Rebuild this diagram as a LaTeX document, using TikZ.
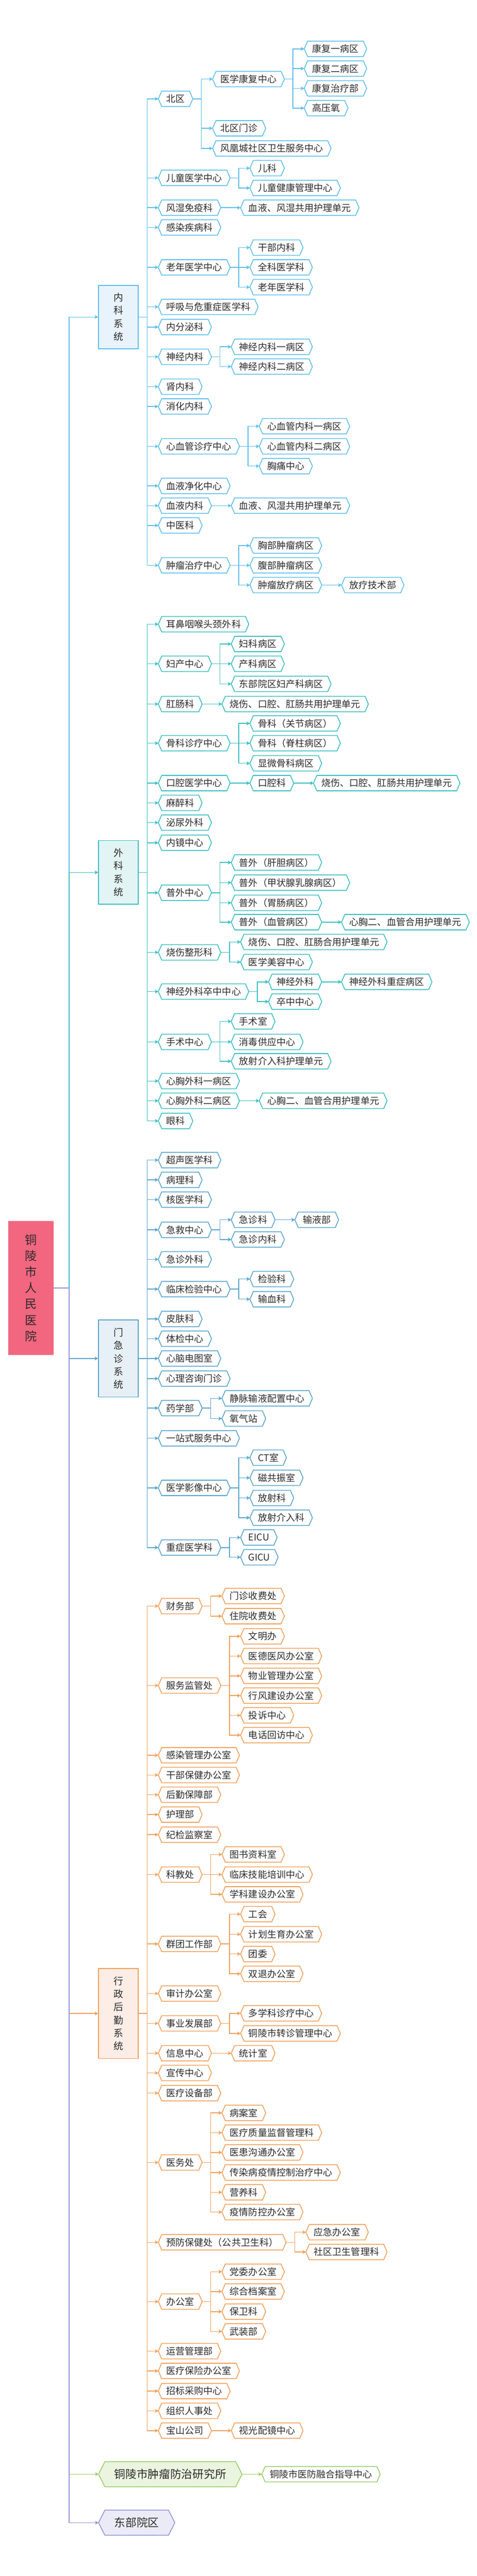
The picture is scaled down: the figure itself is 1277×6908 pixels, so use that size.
\documentclass[tikz,border=0pt]{standalone}
\usepackage{fontspec}
\setmainfont{Noto Sans CJK SC}
\usetikzlibrary{calc,arrows.meta,backgrounds}
\definecolor{cA}{HTML}{5FBEEB}
\definecolor{cB}{HTML}{3CBEC3}
\definecolor{cC}{HTML}{5AA5CD}
\definecolor{cD}{HTML}{F0A05A}
\definecolor{cE}{HTML}{9BCD69}
\definecolor{cF}{HTML}{9696D7}
\definecolor{fA}{HTML}{E8F3FC}
\definecolor{fB}{HTML}{E3F4F4}
\definecolor{fC}{HTML}{E8F0F7}
\definecolor{fD}{HTML}{FCEDE6}
\definecolor{fE}{HTML}{EAF4DF}
\definecolor{fF}{HTML}{EBEBF8}
\definecolor{cRoot}{HTML}{F2667F}
\definecolor{txt}{HTML}{2B2B2B}
\tikzset{
 hexbox/.style={rectangle, anchor=west, minimum height=41pt, inner xsep=21pt, inner ysep=0pt, text=txt, font=\fontsize{25}{30}\selectfont},
 hexline/.style={line width=2.2pt, line join=round},
 conn/.style={line width=2pt, -{Stealth[length=9pt,width=10pt,inset=2pt]}},
 sysbox/.style={rectangle, draw, line width=2.4pt, minimum width=106pt, align=center, text=txt, font=\fontsize{26}{35}\selectfont, inner sep=0pt},
}
\newcommand\hexoutline[3]{%
 \begin{scope}[on background layer]
 \draw[#3] ($(#1.north west)+(#2,0)$) -- ($(#1.north east)+(-#2,0)$) -- (#1.east) -- ($(#1.south east)+(-#2,0)$) -- ($(#1.south west)+(#2,0)$) -- (#1.west) -- cycle;
 \end{scope}}
\newcommand\kid[5]{%
 \coordinate (tmpy) at (0,#3);
 \node[hexbox, xshift=53pt] (#2) at (#1.east |- tmpy) {#4};
 \hexoutline{#2}{9}{draw=#5, hexline, fill=white}
 \draw[conn, #5] (#1.east) -- ++(23,0) |- (#2.west);}
\begin{document}
\begin{tikzpicture}[x=1pt,y=-1pt]
\useasboundingbox (0,0) rectangle (1277,6908);
\begin{scope}[on background layer]
\fill[white] (0,0) rectangle (1277,6908);
\end{scope}
\node[rectangle, fill=cRoot, minimum width=121pt, minimum height=358pt, align=center, font=\fontsize{32}{43}\selectfont, text=txt, inner sep=0pt] (root) at (82.5,3454) {铜\\陵\\市\\人\\民\\医\\院};
\node[sysbox, draw=cA, fill=fA, minimum height=170pt] (nk) at (317,850) {内\\科\\系\\统};
\node[sysbox, draw=cB, fill=fB, minimum height=171pt] (wk) at (317,2339.5) {外\\科\\系\\统};
\node[sysbox, draw=cC, fill=fC, minimum height=206pt] (mj) at (317,3643) {门\\急\\诊\\系\\统};
\node[sysbox, draw=cD, fill=fD, minimum height=241pt] (xz) at (317,5399.5) {行\\政\\后\\勤\\系\\统};
\node[hexbox, font=\fontsize{30}{36}\selectfont, minimum height=67pt, inner xsep=42pt] (zlyj) at (264,6635) {铜陵市肿瘤防治研究所};
\hexoutline{zlyj}{17}{draw=cE, fill=fE, hexline}
\node[hexbox, font=\fontsize{30}{36}\selectfont, minimum height=67pt, inner xsep=42pt] (dbyq) at (264,6765) {东部院区};
\hexoutline{dbyq}{17}{draw=cF, fill=fF, hexline}
\draw[conn, cA] (root.east) -- ++(42,0) |- (nk.west);
\draw[conn, cB] (root.east) -- ++(42,0) |- (wk.west);
\draw[conn, cC] (root.east) -- ++(42,0) |- (mj.west);
\draw[conn, cD] (root.east) -- ++(42,0) |- (xz.west);
\draw[conn, cE] (root.east) -- ++(42,0) |- (zlyj.west);
\draw[conn, cF] (root.east) -- ++(42,0) |- (dbyq.west);
\kid{zlyj}{yfrh}{6635}{铜陵市医防融合指导中心}{cE}
% 内科系统
\kid{nk}{bq}{265}{北区}{cA}
\kid{bq}{yxkf}{212}{医学康复中心}{cA}
\kid{yxkf}{kf1}{131}{康复一病区}{cA}
\kid{yxkf}{kf2}{184}{康复二病区}{cA}
\kid{yxkf}{kf3}{237}{康复治疗部}{cA}
\kid{yxkf}{gyy}{290}{高压氧}{cA}
\kid{bq}{bqmz}{344}{北区门诊}{cA}
\kid{bq}{fhc}{398}{风凰城社区卫生服务中心}{cA}
\kid{nk}{etyx}{477}{儿童医学中心}{cA}
\kid{etyx}{ek}{451}{儿科}{cA}
\kid{etyx}{etjk}{504}{儿童健康管理中心}{cA}
\kid{nk}{fsmy}{557}{风湿免疫科}{cA}
\kid{fsmy}{xyfsa}{557}{血液、风湿共用护理单元}{cA}
\kid{nk}{grjb}{610}{感染疾病科}{cA}
\kid{nk}{lnyx}{717}{老年医学中心}{cA}
\kid{lnyx}{gbnk}{664}{干部内科}{cA}
\kid{lnyx}{qkyx}{717}{全科医学科}{cA}
\kid{lnyx}{lnyk}{770}{老年医学科}{cA}
\kid{nk}{hxwz}{823}{呼吸与危重症医学科}{cA}
\kid{nk}{nfm}{877}{内分泌科}{cA}
\kid{nk}{sjnk}{957}{神经内科}{cA}
\kid{sjnk}{sjnka}{930}{神经内科一病区}{cA}
\kid{sjnk}{sjnkb}{983}{神经内科二病区}{cA}
\kid{nk}{snk}{1037}{肾内科}{cA}
\kid{nk}{xhnk}{1090}{消化内科}{cA}
\kid{nk}{xxgz}{1197}{心血管诊疗中心}{cA}
\kid{xxgz}{xxga}{1143}{心血管内科一病区}{cA}
\kid{xxgz}{xxgb}{1197}{心血管内科二病区}{cA}
\kid{xxgz}{xtzx}{1250}{胸痛中心}{cA}
\kid{nk}{xyjh}{1303}{血液净化中心}{cA}
\kid{nk}{xynk}{1356}{血液内科}{cA}
\kid{xynk}{xyfsb}{1356}{血液、风湿共用护理单元}{cA}
\kid{nk}{zyk}{1409}{中医科}{cA}
\kid{nk}{zlzl}{1516}{肿瘤治疗中心}{cA}
\kid{zlzl}{xbzl}{1463}{胸部肿瘤病区}{cA}
\kid{zlzl}{fbzl}{1516}{腹部肿瘤病区}{cA}
\kid{zlzl}{zlfl}{1569}{肿瘤放疗病区}{cA}
\kid{zlfl}{fljs}{1569}{放疗技术部}{cA}
% 外科系统
\kid{wk}{ebyh}{1674}{耳鼻咽喉头颈外科}{cB}
\kid{wk}{fczx}{1780}{妇产中心}{cB}
\kid{fczx}{fkbq}{1727}{妇科病区}{cB}
\kid{fczx}{ckbq}{1780}{产科病区}{cB}
\kid{fczx}{dbfc}{1834}{东部院区妇产科病区}{cB}
\kid{wk}{gck}{1888}{肛肠科}{cB}
\kid{gck}{sska}{1888}{烧伤、口腔、肛肠共用护理单元}{cB}
\kid{wk}{gkzl}{1993}{骨科诊疗中心}{cB}
\kid{gkzl}{gka}{1940}{骨科（关节病区）}{cB}
\kid{gkzl}{gkb}{1993}{骨科（脊柱病区）}{cB}
\kid{gkzl}{xwgk}{2047}{显微骨科病区}{cB}
\kid{wk}{kqyx}{2100}{口腔医学中心}{cB}
\kid{kqyx}{kqk}{2100}{口腔科}{cB}
\kid{kqk}{sskb}{2100}{烧伤、口腔、肛肠共用护理单元}{cB}
\kid{wk}{mzk}{2153}{麻醉科}{cB}
\kid{wk}{mnwk}{2206}{泌尿外科}{cB}
\kid{wk}{njzx}{2260}{内镜中心}{cB}
\kid{wk}{pwzx}{2394}{普外中心}{cB}
\kid{pwzx}{pwa}{2313}{普外（肝胆病区）}{cB}
\kid{pwzx}{pwb}{2367}{普外（甲状腺乳腺病区）}{cB}
\kid{pwzx}{pwc}{2421}{普外（胃肠病区）}{cB}
\kid{pwzx}{pwd}{2473}{普外（血管病区）}{cB}
\kid{pwd}{xxhya}{2473}{心胸二、血管合用护理单元}{cB}
\kid{wk}{sszx}{2554}{烧伤整形科}{cB}
\kid{sszx}{sshy}{2526}{烧伤、口腔、肛肠合用护理单元}{cB}
\kid{sszx}{yxmr}{2580}{医学美容中心}{cB}
\kid{wk}{sjwk}{2659}{神经外科卒中中心}{cB}
\kid{sjwk}{sjwkk}{2633}{神经外科}{cB}
\kid{sjwkk}{sjzz}{2633}{神经外科重症病区}{cB}
\kid{sjwk}{czzx}{2686}{卒中中心}{cB}
\kid{wk}{sszxb}{2794}{手术中心}{cB}
\kid{sszxb}{sss}{2739}{手术室}{cB}
\kid{sszxb}{xdgy}{2794}{消毒供应中心}{cB}
\kid{sszxb}{fsjr}{2846}{放射介入科护理单元}{cB}
\kid{wk}{xxwa}{2899}{心胸外科一病区}{cB}
\kid{wk}{xxwb}{2952}{心胸外科二病区}{cB}
\kid{xxwb}{xxhyb}{2952}{心胸二、血管合用护理单元}{cB}
\kid{wk}{yk}{3006}{眼科}{cB}
% 门急诊系统
\kid{mj}{csyx}{3111}{超声医学科}{cC}
\kid{mj}{blk}{3164}{病理科}{cC}
\kid{mj}{hyx}{3217}{核医学科}{cC}
\kid{mj}{jjzx}{3298}{急救中心}{cC}
\kid{jjzx}{jzk}{3271}{急诊科}{cC}
\kid{jzk}{syb}{3271}{输液部}{cC}
\kid{jjzx}{jznk}{3324}{急诊内科}{cC}
\kid{mj}{jzwk}{3377}{急诊外科}{cC}
\kid{mj}{lcjy}{3457}{临床检验中心}{cC}
\kid{lcjy}{jyk}{3430}{检验科}{cC}
\kid{lcjy}{sxk}{3484}{输血科}{cC}
\kid{mj}{pfk}{3537}{皮肤科}{cC}
\kid{mj}{tjzx}{3590}{体检中心}{cC}
\kid{mj}{xndt}{3643}{心脑电图室}{cC}
\kid{mj}{xlzx}{3697}{心理咨询门诊}{cC}
\kid{mj}{yxb}{3776}{药学部}{cC}
\kid{yxb}{jmsy}{3750}{静脉输液配置中心}{cC}
\kid{yxb}{yqz}{3804}{氧气站}{cC}
\kid{mj}{yzs}{3857}{一站式服务中心}{cC}
\kid{mj}{yxyx}{3990}{医学影像中心}{cC}
\kid{yxyx}{ctr}{3909}{CT室}{cC}
\kid{yxyx}{hgz}{3963}{磁共振室}{cC}
\kid{yxyx}{fsk}{4017}{放射科}{cC}
\kid{yxyx}{fsjrk}{4070}{放射介入科}{cC}
\kid{mj}{zzyx}{4150}{重症医学科}{cC}
\kid{zzyx}{eicu}{4123}{EICU}{cC}
\kid{zzyx}{gicu}{4176}{GICU}{cC}
% 行政后勤系统
\kid{xz}{cwb}{4307}{财务部}{cD}
\kid{cwb}{mzsf}{4280}{门诊收费处}{cD}
\kid{cwb}{zysf}{4334}{住院收费处}{cD}
\kid{xz}{fwjg}{4520}{服务监管处}{cD}
\kid{fwjg}{wmb}{4388}{文明办}{cD}
\kid{fwjg}{ydyf}{4441}{医德医风办公室}{cD}
\kid{fwjg}{wygl}{4494}{物业管理办公室}{cD}
\kid{fwjg}{xfjs}{4547}{行风建设办公室}{cD}
\kid{fwjg}{tszx}{4600}{投诉中心}{cD}
\kid{fwjg}{dhhf}{4653}{电话回访中心}{cD}
\kid{xz}{grgl}{4707}{感染管理办公室}{cD}
\kid{xz}{gbbj}{4760}{干部保健办公室}{cD}
\kid{xz}{hqbz}{4813}{后勤保障部}{cD}
\kid{xz}{hlb}{4866}{护理部}{cD}
\kid{xz}{jjjc}{4920}{纪检监察室}{cD}
\kid{xz}{kjc}{5027}{科教处}{cD}
\kid{kjc}{tszl}{4973}{图书资料室}{cD}
\kid{kjc}{lcjn}{5027}{临床技能培训中心}{cD}
\kid{kjc}{xkjs}{5080}{学科建设办公室}{cD}
\kid{xz}{qtgz}{5213}{群团工作部}{cD}
\kid{qtgz}{gh}{5133}{工会}{cD}
\kid{qtgz}{jhsy}{5187}{计划生育办公室}{cD}
\kid{qtgz}{tw}{5240}{团委}{cD}
\kid{qtgz}{stb}{5293}{双退办公室}{cD}
\kid{xz}{sjbg}{5346}{审计办公室}{cD}
\kid{xz}{syfz}{5426}{事业发展部}{cD}
\kid{syfz}{dxk}{5399}{多学科诊疗中心}{cD}
\kid{syfz}{zzgl}{5453}{铜陵市转诊管理中心}{cD}
\kid{xz}{xxzx}{5506}{信息中心}{cD}
\kid{xxzx}{tjs}{5506}{统计室}{cD}
\kid{xz}{xczx}{5559}{宣传中心}{cD}
\kid{xz}{ylsb}{5613}{医疗设备部}{cD}
\kid{xz}{ywc}{5799}{医务处}{cD}
\kid{ywc}{bas}{5666}{病案室}{cD}
\kid{ywc}{ylzl}{5719}{医疗质量监督管理科}{cD}
\kid{ywc}{yhgt}{5772}{医患沟通办公室}{cD}
\kid{ywc}{crb}{5826}{传染病疫情控制治疗中心}{cD}
\kid{ywc}{yyk}{5879}{营养科}{cD}
\kid{ywc}{yqfk}{5932}{疫情防控办公室}{cD}
\kid{xz}{yfbj}{6013}{预防保健处（公共卫生科）}{cD}
\kid{yfbj}{yjbg}{5986}{应急办公室}{cD}
\kid{yfbj}{sqws}{6039}{社区卫生管理科}{cD}
\kid{xz}{bgs}{6172}{办公室}{cD}
\kid{bgs}{dwbg}{6092}{党委办公室}{cD}
\kid{bgs}{zhda}{6145}{综合档案室}{cD}
\kid{bgs}{bwk}{6199}{保卫科}{cD}
\kid{bgs}{wzb}{6252}{武装部}{cD}
\kid{xz}{yygl}{6305}{运营管理部}{cD}
\kid{xz}{ylbx}{6358}{医疗保险办公室}{cD}
\kid{xz}{zbcg}{6412}{招标采购中心}{cD}
\kid{xz}{zzrs}{6465}{组织人事处}{cD}
\kid{xz}{bsgs}{6518}{宝山公司}{cD}
\kid{bsgs}{sgpj}{6518}{视光配镜中心}{cD}
\end{tikzpicture}
\end{document}
